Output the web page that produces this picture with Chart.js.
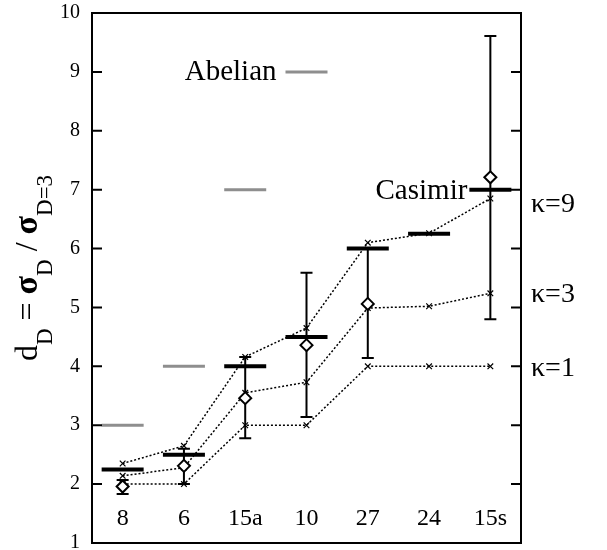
<!DOCTYPE html>
<html>
<head>
<meta charset="utf-8">
<script src="https://cdn.jsdelivr.net/npm/chart.js@4.4.0/dist/chart.umd.min.js"></script>
<style>
  html, body { margin: 0; padding: 0; background: #fff; }
</style>
</head>
<body>
<canvas id="chart" width="607" height="550"></canvas>
<script>
// representations along the x axis
const groups = ['8', '6', '15a', '10', '27', '24', '15s'];

// scaling predictions
const abelian = [3, 4, 7, 9, null, null, null];
const casimir = [2.25, 2.5, 4, 4.5, 6, 6.25, 7];

// model curves
const kappa1 = [2, 2, 3, 3, 4, 4, 4];
const kappa3 = [2.14, 2.28, 3.55, 3.73, 4.99, 5.02, 5.24];
const kappa9 = [2.35, 2.65, 4.16, 4.65, 6.1, 6.26, 6.85];

// lattice data with errors
const measured = [1.96, 2.31, 3.46, 4.36, 5.06, null, 7.21];
const errLow = [1.83, 2.0, 2.78, 3.14, 4.14, null, 4.8];
const errHigh = [2.07, 2.6, 4.16, 5.59, 6.0, null, 9.61];

const yMin = 1;
const yMax = 10;

const serif = "'Liberation Serif', 'Times New Roman', serif";

function barDataset(label, data, color, width) {
    return {
        label: label,
        data: data,
        showLine: false,
        pointStyle: 'line',
        pointRadius: 21,
        pointBorderWidth: width,
        pointBorderColor: color,
        borderColor: color
    };
}

function kappaDataset(label, data) {
    return {
        label: label,
        data: data,
        borderColor: '#000',
        borderWidth: 1.5,
        borderDash: [2, 2],
        pointStyle: 'crossRot',
        pointRadius: 4,
        pointBorderWidth: 1.2,
        pointBorderColor: '#000',
        tension: 0
    };
}

const errorBars = {
    id: 'errorBars',
    beforeDatasetsDraw(chart) {
        const ctx = chart.ctx;
        const x = chart.scales.x;
        const y = chart.scales.y;
        ctx.save();
        ctx.strokeStyle = '#000';
        ctx.lineWidth = 2;
        for (let i = 0; i < groups.length; i++) {
            if (errLow[i] == null) continue;
            const px = x.getPixelForValue(i);
            const lo = y.getPixelForValue(errLow[i]);
            const hi = y.getPixelForValue(errHigh[i]);
            ctx.beginPath();
            ctx.moveTo(px, lo);
            ctx.lineTo(px, hi);
            ctx.moveTo(px - 6, lo);
            ctx.lineTo(px + 6, lo);
            ctx.moveTo(px - 6, hi);
            ctx.lineTo(px + 6, hi);
            ctx.stroke();
        }
        ctx.restore();
    }
};

const frameAndText = {
    id: 'frameAndText',
    afterDraw(chart) {
        const ctx = chart.ctx;
        const area = chart.chartArea;
        const x = chart.scales.x;
        const y = chart.scales.y;
        ctx.save();

        // box round the plot with inward ticks on both sides
        ctx.strokeStyle = '#000';
        ctx.lineWidth = 2;
        ctx.strokeRect(area.left, area.top, area.right - area.left, area.bottom - area.top);
        ctx.beginPath();
        for (let v = yMin + 1; v < yMax; v++) {
            const py = y.getPixelForValue(v);
            ctx.moveTo(area.left, py);
            ctx.lineTo(area.left + 10, py);
            ctx.moveTo(area.right - 10, py);
            ctx.lineTo(area.right, py);
        }
        ctx.stroke();

        ctx.fillStyle = '#000';

        // category labels sit inside the plot
        ctx.font = '24px ' + serif;
        ctx.textAlign = 'center';
        ctx.textBaseline = 'alphabetic';
        groups.forEach((g, i) => {
            ctx.fillText(g, x.getPixelForValue(i), area.bottom - 18);
        });

        ctx.font = '29px ' + serif;
        ctx.textAlign = 'right';
        ctx.fillText('Abelian', x.getPixelForValue(3) - 30, y.getPixelForValue(9) + 8);
        ctx.fillText('Casimir', x.getPixelForValue(6) - 23, y.getPixelForValue(7) + 9);

        ctx.font = '28px ' + serif;
        ctx.textAlign = 'left';
        const last = groups.length - 1;
        ctx.fillText('\u03ba=9', area.right + 10, y.getPixelForValue(kappa9[last]) + 13);
        ctx.fillText('\u03ba=3', area.right + 10, y.getPixelForValue(kappa3[last]) + 9);
        ctx.fillText('\u03ba=1', area.right + 10, y.getPixelForValue(kappa1[last]) + 10);

        // y title with subscripts
        const parts = [
            ['d', 'main'], ['D', 'sub'], [' = ', 'main'], ['\u03c3', 'sigma'], ['D', 'sub'],
            [' / ', 'main'], ['\u03c3', 'sigma'], ['D=3', 'sub']
        ];
        const fonts = {
            main: '32px ' + serif,
            sigma: 'bold 34px ' + serif,
            sub: '23px ' + serif
        };
        let total = 0;
        parts.forEach(p => {
            ctx.font = fonts[p[1]];
            total += ctx.measureText(p[0]).width;
        });
        ctx.translate(37, 268);
        ctx.rotate(-Math.PI / 2);
        let pos = -total / 2;
        parts.forEach(p => {
            ctx.font = fonts[p[1]];
            ctx.fillText(p[0], pos, p[1] === 'sub' ? 15 : 0);
            pos += ctx.measureText(p[0]).width;
        });

        ctx.restore();
    }
};

const ctx = document.getElementById('chart').getContext('2d');

new Chart(ctx, {
    type: 'line',
    data: {
        labels: groups,
        datasets: [
            {
                label: 'data',
                data: measured,
                showLine: false,
                pointStyle: 'rectRot',
                pointRadius: 6,
                pointBorderWidth: 2,
                pointBorderColor: '#000',
                pointBackgroundColor: '#fff',
                order: 0
            },
            Object.assign(barDataset('Casimir', casimir, '#000', 4), { order: 1 }),
            Object.assign(barDataset('Abelian', abelian, '#8e8e8e', 3), { order: 2 }),
            Object.assign(kappaDataset('kappa=9', kappa9), { order: 3 }),
            Object.assign(kappaDataset('kappa=3', kappa3), { order: 4 }),
            Object.assign(kappaDataset('kappa=1', kappa1), { order: 5 })
        ]
    },
    options: {
        responsive: false,
        animation: false,
        layout: {
            autoPadding: false,
            padding: { left: 0, right: 86, top: 13, bottom: 7 }
        },
        plugins: {
            legend: { display: false },
            tooltip: { enabled: false }
        },
        scales: {
            x: {
                display: false,
                offset: true
            },
            y: {
                min: yMin,
                max: yMax,
                grid: { display: false },
                border: { display: false },
                ticks: {
                    stepSize: 1,
                    padding: 4,
                    color: '#000',
                    font: { family: serif, size: 20 }
                },
                afterFit(scale) {
                    scale.width = 92;
                    scale.paddingTop = 0;
                    scale.paddingBottom = 0;
                }
            }
        }
    },
    plugins: [errorBars, frameAndText]
});
</script>
</body>
</html>
